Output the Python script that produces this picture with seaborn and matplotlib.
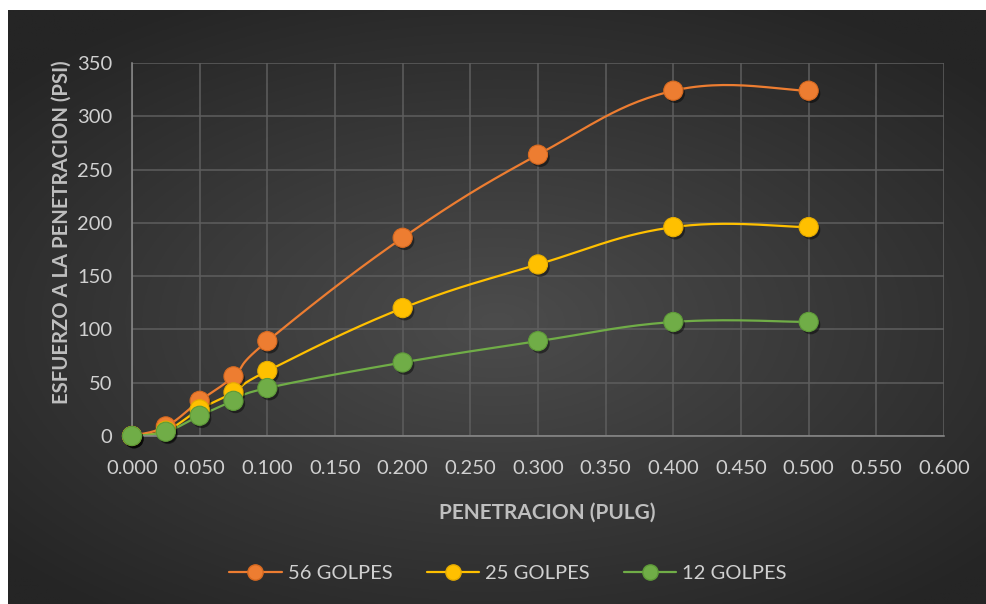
import numpy as np
import pandas as pd
import matplotlib
matplotlib.use("Agg")
import matplotlib.pyplot as plt
import matplotlib.patheffects as pe
from matplotlib.lines import Line2D
import seaborn as sns

# data
penetracion = [0.000, 0.025, 0.050, 0.075, 0.100, 0.200, 0.300, 0.400, 0.500]
golpes_56 = [0, 9, 33, 56, 89, 186, 264, 324, 324]
golpes_25 = [0, 5, 25, 41, 61, 120, 161, 196, 196]
golpes_12 = [0, 4, 19, 33, 45, 69, 89, 107, 107]
series_names = ["56 GOLPES", "25 GOLPES", "12 GOLPES"]
series_colors = ["#ED7D31", "#FFC000", "#70AD47"]
edge_colors = ["#D86A20", "#E6AC00", "#5E9A38"]
x_ticks = np.arange(0, 0.601, 0.05)
y_ticks = np.arange(0, 351, 50)

sns.set_theme(style="dark")
plt.rcParams["font.family"] = ["Lato", "DejaVu Sans"]

fig = plt.figure(figsize=(9.86, 6.04), dpi=100)
fig.patch.set_facecolor("white")

# radial gradient background (dark chart area, white margin top/left)
bg = fig.add_axes([8 / 986, 0, 978 / 986, 594 / 604])
bg.set_axis_off()
gx, gy = np.meshgrid(np.linspace(-1, 1, 400), np.linspace(-1, 1, 300))
r = np.sqrt((gx * 1.0) ** 2 + ((gy - 0.05) * 1.1) ** 2)
r = np.clip(r / 1.35, 0, 1)
c_in, c_out = 0x4C / 255, 0x25 / 255
shade = c_in + (c_out - c_in) * r
bg.imshow(np.dstack([shade, shade, shade]), aspect="auto", extent=[0, 1, 0, 1])

ax = fig.add_axes([132 / 986, 1 - 436 / 604, 812 / 986, 373 / 604])
ax.set_facecolor("none")
ax.set_xlim(0, 0.6)
ax.set_ylim(0, 350)
ax.set_xticks(x_ticks)
ax.set_yticks(y_ticks)
ax.set_xticklabels([f"{v:.3f}" for v in x_ticks])
ax.set_yticklabels([f"{v:.0f}" for v in y_ticks])
ax.grid(True, color="#5E5E5E", linewidth=1.1)
ax.tick_params(colors="#D0D0D0", labelsize=14.5, length=0)
ax.tick_params(axis="x", pad=17)
ax.tick_params(axis="y", pad=14)
for side in ["top", "right"]:
    ax.spines[side].set_visible(False)
for side in ["left", "bottom"]:
    ax.spines[side].set_color("#8C8C8C")
    ax.spines[side].set_linewidth(1.1)

ax.set_xlabel("PENETRACION (PULG)", color="#BFBFBF", fontsize=15,
              fontweight="bold")
ax.set_ylabel("ESFUERZO A LA PENETRACION (PSI)", color="#BFBFBF", fontsize=14.6,
              fontweight="bold")
ax.xaxis.set_label_coords(0.511, -0.206)
ax.yaxis.set_label_coords(-0.086, 0.547)
ax.xaxis.label.set_va("center")
ax.yaxis.label.set_va("center")


def smooth(xs, ys, k=1 / 5.0, n=30):
    # Excel-like smoothed line: cubic bezier in screen space
    pts = ax.transData.transform(np.column_stack([xs, ys]))
    ext = np.vstack([pts[0], pts, pts[-1]])
    out = [pts[0]]
    t = np.linspace(0, 1, n)[1:, None]
    for i in range(len(pts) - 1):
        p0, p1 = ext[i + 1], ext[i + 2]
        c1 = p0 + (ext[i + 2] - ext[i]) * k
        c2 = p1 - (ext[i + 3] - ext[i + 1]) * k
        seg = ((1 - t) ** 3) * p0 + 3 * ((1 - t) ** 2) * t * c1 \
            + 3 * (1 - t) * t ** 2 * c2 + t ** 3 * p1
        out.extend(seg)
    return ax.transData.inverted().transform(np.array(out))


shadow = [pe.SimplePatchShadow(offset=(1.5, -2), shadow_rgbFace="black", alpha=0.45),
          pe.Normal()]
all_series = [golpes_56, golpes_25, golpes_12]
for name, vals, col, ecol in zip(series_names, all_series, series_colors, edge_colors):
    curve = smooth(penetracion, vals)
    sns.lineplot(x=curve[:, 0], y=curve[:, 1], ax=ax, color=col, linewidth=1.6,
                 sort=False, estimator=None, legend=False)
    sc = sns.scatterplot(x=penetracion, y=vals, ax=ax, color=col, s=190,
                         edgecolor=ecol, linewidth=0.8, zorder=5, legend=False)
    sc.collections[-1].set_path_effects(shadow)
    sc.collections[-1].set_clip_on(False)

handles = [Line2D([0], [0], color=c, linewidth=1.6, marker="o", markersize=11,
                  markerfacecolor=c, markeredgecolor=e)
           for c, e in zip(series_colors, edge_colors)]
leg = fig.legend(handles, series_names, loc="center", bbox_to_anchor=(508 / 986, 1 - 573 / 604),
                 ncol=3, frameon=False, fontsize=14.5, labelcolor="#D0D0D0",
                 handlelength=2.6, columnspacing=1.7, handletextpad=0.3)

fig.savefig("out.png", dpi=100, facecolor=fig.get_facecolor())
